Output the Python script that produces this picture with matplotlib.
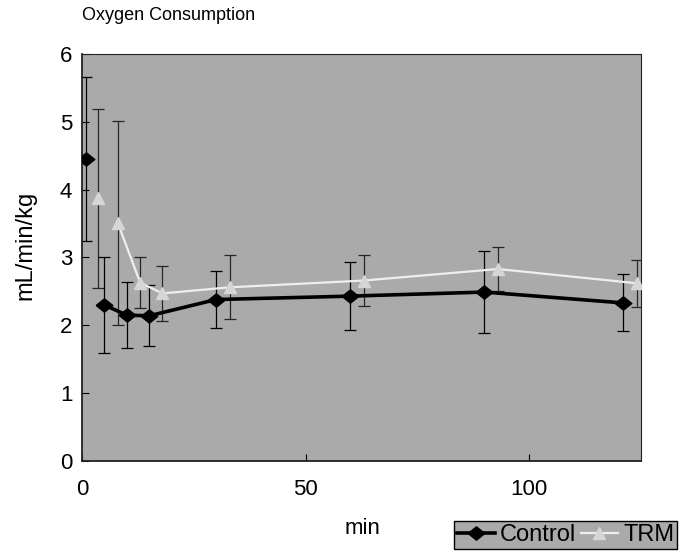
import matplotlib
matplotlib.use("Agg")
import matplotlib.pyplot as plt

# time (min) and oxygen consumption (mL/min/kg), mean and SD
# first value of each group is the baseline, drawn without a connecting line
ctrl_t = [1, 5, 10, 15, 30, 60, 90, 121]
ctrl_y = [4.45, 2.30, 2.15, 2.14, 2.38, 2.43, 2.49, 2.33]
ctrl_sd = [1.21, 0.71, 0.49, 0.45, 0.42, 0.50, 0.61, 0.42]

trm_t = [3.5, 8, 13, 18, 33, 63, 93, 124]
trm_y = [3.87, 3.51, 2.63, 2.47, 2.56, 2.66, 2.83, 2.62]
trm_sd = [1.32, 1.50, 0.37, 0.40, 0.47, 0.38, 0.33, 0.35]

xticks = [0, 50, 100]
yticks = [0, 1, 2, 3, 4, 5, 6]

plt.rcParams["font.family"] = ["Liberation Sans", "DejaVu Sans"]

bg = "#aaaaaa"
diamond = [(-1, 0), (0, 0.8), (1, 0), (0, -0.8), (-1, 0)]

fig = plt.figure(figsize=(6.85, 5.57), dpi=100)
ax = fig.add_axes([0.1197, 0.1724, 0.8161, 0.7307])
ax.set_facecolor(bg)

# error bars first, then the lines on top
ax.errorbar(trm_t, trm_y, yerr=trm_sd, fmt="none", ecolor="#262626",
            elinewidth=0.9, capsize=4.5, capthick=0.9, zorder=2)
ax.errorbar(ctrl_t, ctrl_y, yerr=ctrl_sd, fmt="none", ecolor="black",
            elinewidth=0.9, capsize=4.5, capthick=0.9, zorder=2)

# baseline points on their own
ax.plot(trm_t[:1], trm_y[:1], ls="none", marker="^", ms=9,
        mfc="#d6d6d6", mec="#d6d6d6", zorder=3)
ax.plot(ctrl_t[:1], ctrl_y[:1], ls="none", marker=diamond, ms=12,
        color="black", zorder=4)

ax.plot(trm_t[1:], trm_y[1:], color="#eeeeee", lw=1.6, marker="^", ms=9,
        mfc="#d6d6d6", mec="#d6d6d6", label="TRM", zorder=3)
ax.plot(ctrl_t[1:], ctrl_y[1:], color="black", lw=2.6, marker=diamond,
        ms=12, label="Control", zorder=4)

ax.set_xlim(0, 125)
ax.set_ylim(0, 6)
ax.set_xticks(xticks)
ax.set_yticks(yticks)
ax.tick_params(direction="in", length=5, labelsize=16, width=0.8)
ax.tick_params(axis="x", pad=13)
ax.tick_params(axis="y", pad=7)
for s in ax.spines.values():
    s.set_color("#222222")
ax.spines["left"].set_linewidth(1.3)
ax.spines["bottom"].set_linewidth(1.3)

fig.text(25 / 685, 1 - 245 / 557, "mL/min/kg", fontsize=17, rotation=90,
         ha="center", va="center")
fig.text(362 / 685, 1 - 528 / 557, "min", fontsize=16, ha="center", va="center")
fig.text(82 / 685, 1 - 16 / 557, "Oxygen Consumption", fontsize=13,
         ha="left", va="center")

h, l = ax.get_legend_handles_labels()
leg = fig.legend(h[::-1], l[::-1], loc="lower right",
                 bbox_to_anchor=(677 / 685, 8 / 557),
                 ncol=2, fontsize=17, frameon=True, fancybox=False,
                 handlelength=1.6, handletextpad=0.2, columnspacing=0.2,
                 borderpad=0.12, borderaxespad=0)
leg.get_frame().set_facecolor(bg)
leg.get_frame().set_edgecolor("black")
leg.get_frame().set_linewidth(1.0)
leg.get_frame().set_alpha(1)

fig.savefig("out.png", dpi=100)
